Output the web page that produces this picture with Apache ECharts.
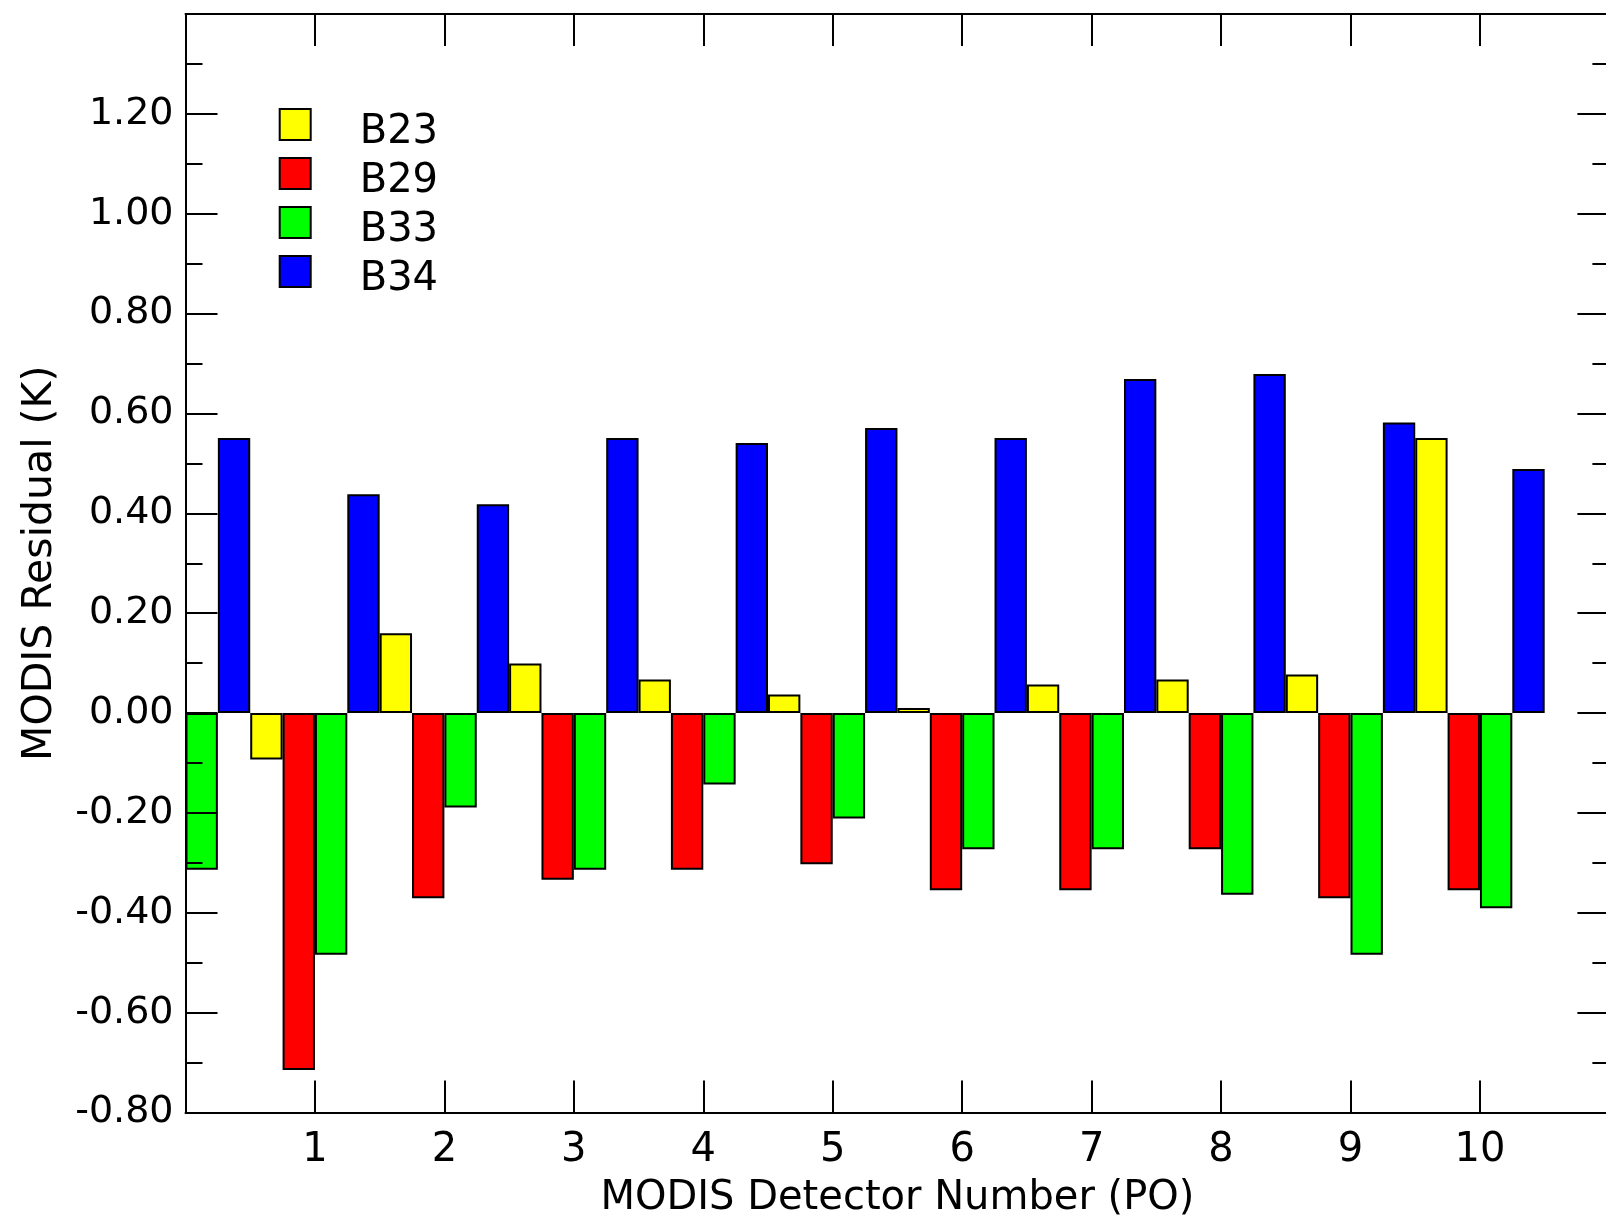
<!DOCTYPE html>
<html>
<head>
<meta charset="utf-8">
<script src="https://cdn.jsdelivr.net/npm/echarts@6/dist/echarts.min.js"></script>
<style>
html,body{margin:0;padding:0;background:#ffffff;}
#chart{width:1606px;height:1218px;}
</style>
</head>
<body>
<div id="chart"></div>
<script>
// ---- data ----
const detectors = [0, 1, 2, 3, 4, 5, 6, 7, 8, 9, 10];
const seriesNames = ['B23', 'B29', 'B33', 'B34'];
const b23 = [null, -0.093, 0.160, 0.099, 0.067, 0.037, 0.010, 0.057, 0.067, 0.077, 0.551];
const b29 = [null, -0.715, -0.371, -0.334, -0.314, -0.303, -0.355, -0.355, -0.273, -0.371, -0.355];
const b33 = [-0.314, -0.484, -0.189, -0.314, -0.143, -0.211, -0.273, -0.273, -0.364, -0.484, -0.391];
const b34 = [0.551, 0.438, 0.418, 0.551, 0.541, 0.571, 0.551, 0.669, 0.679, 0.582, 0.489];
const xRange = [0, 11];
const yRange = [-0.8, 1.4];
const xTitle = 'MODIS Detector Number (PO)';
const yTitle = 'MODIS Residual (K)';
const colors = ['#ffff00', '#ff0000', '#00ff00', '#0000ff'];

const values = [b23, b29, b33, b34];
const FONT = 'DejaVu Sans';
const INK = '#000000';

const lineStyle = {color: INK, width: 2};
const axisLine = {show: true, onZero: false, lineStyle: lineStyle};
const majorTick = {show: true, inside: true, length: 32, lineStyle: lineStyle};
const minorTick = {show: true, splitNumber: 2, length: 17, lineStyle: lineStyle};

const chart = echarts.init(document.getElementById('chart'), null, {renderer: 'canvas'});

const option = {
  backgroundColor: '#ffffff',
  animation: false,
  textStyle: {fontFamily: FONT, color: INK},
  grid: {left: 185.5, top: 14, width: 1423.9, height: 1098.5, outerBoundsMode: 'none', containLabel: false},
  legend: {
    orient: 'vertical', left: 278.7, top: 96.1, padding: 0,
    itemWidth: 31, itemHeight: 31, itemGap: -8, icon: 'rect',
    itemStyle: {borderColor: INK, borderWidth: 2},
    formatter: function (name) { return '{t|' + name + '}'; },
    textStyle: {
      fontSize: 40, fontFamily: FONT, color: INK,
      rich: {t: {fontSize: 40, fontFamily: FONT, color: INK, lineHeight: 31, padding: [17, 0, 0, 44]}}
    },
    selectedMode: false,
    data: seriesNames
  },
  xAxis: [
    {
      type: 'value', position: 'bottom', min: xRange[0], max: xRange[1], interval: 1,
      axisLine: axisLine, axisTick: majorTick,
      axisLabel: {show: true, showMinLabel: false, showMaxLabel: false, margin: 18,
                  fontSize: 40, fontFamily: FONT, color: INK},
      splitLine: {show: false},
      name: xTitle, nameLocation: 'middle', nameGap: 66,
      nameTextStyle: {fontSize: 40, fontFamily: FONT, color: INK},
      z: 3
    },
    {
      type: 'value', position: 'top', min: xRange[0], max: xRange[1], interval: 1,
      axisLine: axisLine, axisTick: majorTick,
      axisLabel: {show: false}, splitLine: {show: false}, z: 3
    }
  ],
  yAxis: [
    {
      type: 'value', position: 'left', min: yRange[0], max: yRange[1], interval: 0.2,
      axisLine: axisLine, axisTick: majorTick, minorTick: minorTick,
      axisLabel: {show: true, showMinLabel: true, showMaxLabel: false, margin: 12,
                  fontSize: 38, fontFamily: FONT, color: INK, padding: [17, 0, 0, 0],
                  formatter: function (v) { return v.toFixed(2); }},
      splitLine: {show: false}, minorSplitLine: {show: false},
      name: yTitle, nameLocation: 'middle', nameGap: 125, nameRotate: 90,
      nameTextStyle: {fontSize: 41, fontFamily: FONT, color: INK},
      z: 3
    },
    {
      type: 'value', position: 'right', min: yRange[0], max: yRange[1], interval: 0.2,
      axisLine: axisLine, axisTick: majorTick, minorTick: minorTick,
      axisLabel: {show: false}, splitLine: {show: false}, minorSplitLine: {show: false},
      z: 3
    }
  ],
  series: seriesNames.map(function (name, i) {
    return {
      name: name, type: 'bar', xAxisIndex: 0, yAxisIndex: 0,
      barGap: '0%', barCategoryGap: '0%', clip: true,
      itemStyle: {color: colors[i], borderColor: INK, borderWidth: 2},
      emphasis: {disabled: true},
      data: detectors.map(function (d, j) { return [d, values[i][j]]; })
    };
  })
};

chart.setOption(option);
</script>
</body>
</html>
